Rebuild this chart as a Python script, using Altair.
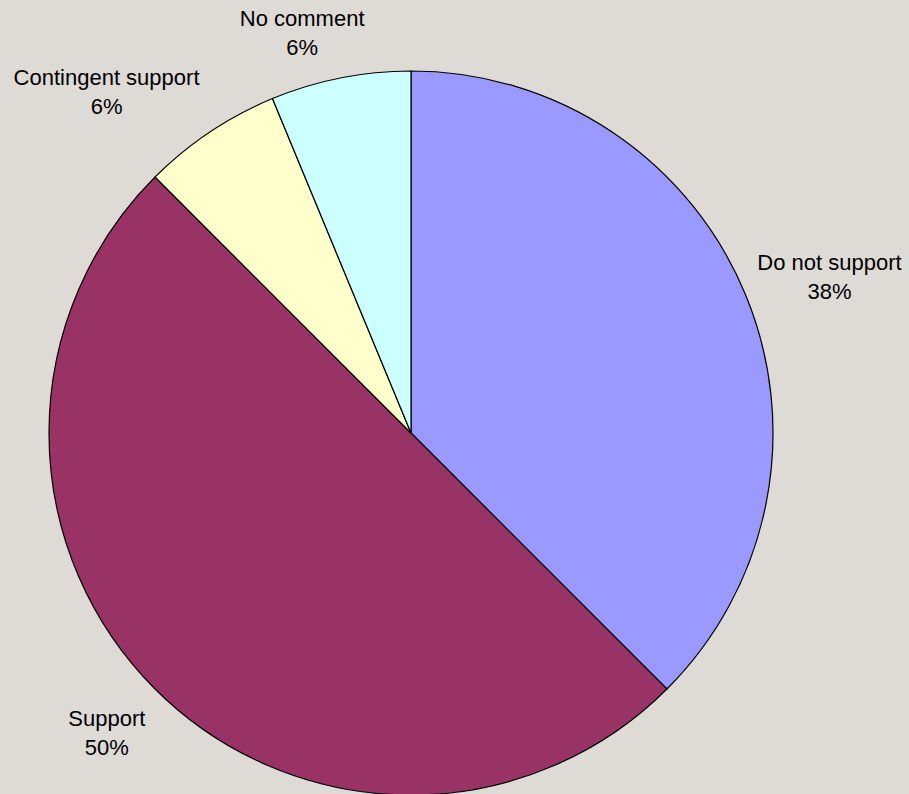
import altair as alt
import pandas as pd

categories = ["Do not support", "Support", "Contingent support", "No comment"]
counts = [6, 8, 1, 1]
colors = ["#9999FF", "#993366", "#FFFFCC", "#CCFFFF"]

total = sum(counts)
df = pd.DataFrame({
    "category": categories,
    "count": counts,
    "order": list(range(len(categories))),
})
df["label"] = [f"{c}\n{round(v / total * 100)}%" for c, v in zip(categories, counts)]

# label nudges (Excel-like placement)
nudge = {
    "Do not support": (12, -2),
    "Support": (7, -25),
    "Contingent support": (-60, 11),
    "No comment": (-23, 18),
}

cx, cy, r = 411, 433, 362

base = alt.Chart(df)

pie = base.mark_arc(outerRadius=r, stroke="black", strokeWidth=1.2).encode(
    theta=alt.Theta("count:Q", stack=True),
    order=alt.Order("order:Q"),
    color=alt.Color("category:N", scale=alt.Scale(domain=categories, range=colors), legend=None),
    x=alt.value(cx),
    y=alt.value(cy),
)

layers = [pie]
for cat in categories:
    dx, dy = nudge[cat]
    t = base.mark_text(
        radius=440, dx=dx, dy=dy, font="Liberation Sans", fontSize=22,
        lineBreak="\n", lineHeight=29, align="center", baseline="middle", color="black",
    ).encode(
        theta=alt.Theta("count:Q", stack=True),
        order=alt.Order("order:Q"),
        text="label:N",
        x=alt.value(cx),
        y=alt.value(cy),
        opacity=alt.condition(alt.datum.category == cat, alt.value(1), alt.value(0)),
    )
    layers.append(t)

chart = alt.layer(*layers).properties(
    width=909, height=794, autosize=alt.AutoSizeParams(type="none"), padding=0,
    background="#DEDAD6",
).configure_view(stroke=None)

chart.save("out.html", embed_options={"renderer": "svg", "actions": False})
